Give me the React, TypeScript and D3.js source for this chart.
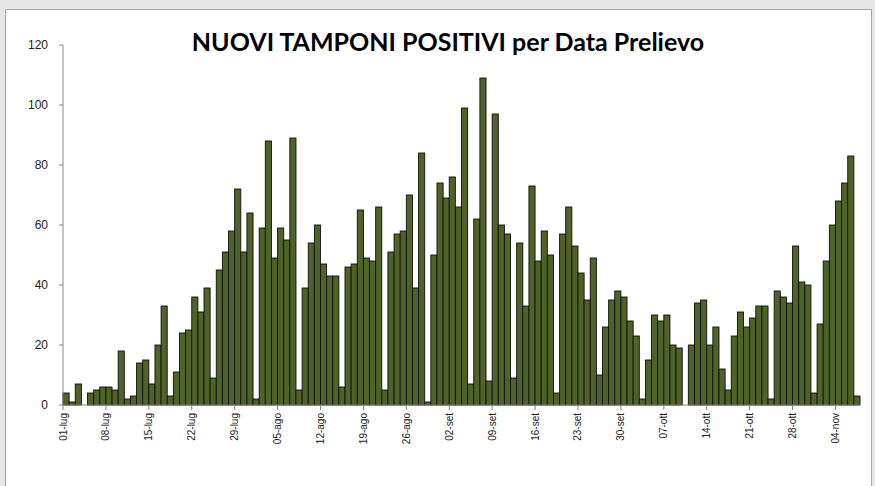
import * as d3 from "d3";

// daily values
const lugValues = [4, 1, 7, 0, 4, 5, 6, 6, 5, 18, 2, 3, 14, 15, 7, 20, 33, 3, 11, 24, 25, 36, 31, 39, 9, 45, 51, 58, 72, 51, 64];
const agoValues = [2, 59, 88, 49, 59, 55, 89, 5, 39, 54, 60, 47, 43, 43, 6, 46, 47, 65, 49, 48, 66, 5, 51, 57, 58, 70, 39, 84, 1, 50, 74];
const setValues = [69, 76, 66, 99, 7, 62, 109, 8, 97, 60, 57, 9, 54, 33, 73, 48, 58, 50, 4, 57, 66, 53, 44, 35, 49, 10, 26, 35, 38, 36];
const ottValues = [28, 23, 2, 15, 30, 28, 30, 20, 19, 0, 20, 34, 35, 20, 26, 12, 5, 23, 31, 26, 29, 33, 33, 2, 38, 36, 34, 53, 41, 40, 4];
const novValues = [27, 48, 60, 68, 74, 83, 3];

const months = ["lug", "ago", "set", "ott", "nov"];
const monthValues = [lugValues, agoValues, setValues, ottValues, novValues];

const tickLabels = [
  "01-lug", "08-lug", "15-lug", "22-lug", "29-lug",
  "05-ago", "12-ago", "19-ago", "26-ago",
  "02-set", "09-set", "16-set", "23-set", "30-set",
  "07-ott", "14-ott", "21-ott", "28-ott", "04-nov",
];
const yTicks = [0, 20, 40, 60, 80, 100, 120];

const title = "NUOVI TAMPONI POSITIVI per Data Prelievo";

// one category per day, "01-lug" ...
const days: { label: string; value: number }[] = [];
monthValues.forEach((vals, m) => {
  vals.forEach((v, i) => {
    days.push({ label: String(i + 1).padStart(2, "0") + "-" + months[m], value: v });
  });
});

const W = 875;
const H = 486;
const left = 63;
const right = 860;
const top = 45;
const bottom = 405;

export default function App() {
  const x = d3
    .scaleBand<string>()
    .domain(days.map((d) => d.label))
    .range([left, right])
    .padding(0);
  const y = d3.scaleLinear().domain([0, 120]).range([bottom, top]);

  return (
    <svg
      width={W}
      height={H}
      style={{ position: "fixed", left: 0, top: 0, display: "block" }}
    >
      <rect x={0} y={0} width={W} height={H} fill="#e6e6e6" />
      <rect x={5.5} y={9.5} width={866} height={490} fill="#ffffff" stroke="#a6a6a6" />

      <text
        x={448}
        y={51}
        textAnchor="middle"
        fontFamily="Lato, 'Open Sans', sans-serif"
        fontWeight="bold"
        fontSize={25}
        fill="#000"
      >
        {title}
      </text>

      {/* bars */}
      {days.map((d) =>
        d.value > 0 ? (
          <rect
            key={d.label}
            x={x(d.label)}
            y={y(d.value)}
            width={x.bandwidth()}
            height={y(0) - y(d.value)}
            fill="#4f6228"
            stroke="#111"
            strokeWidth={0.9}
          />
        ) : null
      )}

      {/* y axis */}
      <line x1={left} x2={left} y1={top} y2={bottom} stroke="#868686" />
      {yTicks.map((t) => (
        <g key={t}>
          <line x1={left - 4} x2={left} y1={y(t)} y2={y(t)} stroke="#868686" />
          <text
            x={left - 15}
            y={y(t)}
            dy="0.35em"
            textAnchor="end"
            fontFamily="'Liberation Sans', Arial, sans-serif"
            fontSize={12}
            fill="#222"
          >
            {t}
          </text>
        </g>
      ))}

      {/* x axis */}
      <line x1={left} x2={right} y1={bottom} y2={bottom} stroke="#868686" />
      {tickLabels.map((lab) => {
        const tx = x(lab)!;
        return (
          <g key={lab}>
            <line x1={tx} x2={tx} y1={bottom} y2={bottom + 5} stroke="#868686" />
            <text
              transform={`translate(${tx},${bottom + 8}) rotate(-90)`}
              dy="0.35em"
              textAnchor="end"
              fontFamily="'Liberation Sans', Arial, sans-serif"
              fontSize={10}
              fill="#222"
            >
              {lab}
            </text>
          </g>
        );
      })}
    </svg>
  );
}
